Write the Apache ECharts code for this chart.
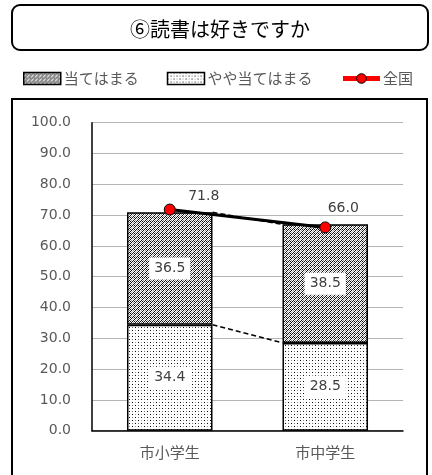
<!DOCTYPE html>
<html><head><meta charset="utf-8">
<script src="https://cdn.jsdelivr.net/npm/echarts@6/dist/echarts.min.js"></script>
<style>html,body{margin:0;padding:0;background:#fff}#c{width:432px;height:475px}</style>
</head><body><div id="c"></div>
<script>
const titleText = '⑥読書は好きですか';
const categories = ['市小学生', '市中学生'];
const seriesNames = ['当てはまる', 'やや当てはまる', '全国'];
const atehamaru = [36.5, 38.5];
const yayaAtehamaru = [34.4, 28.5];
const zenkoku = [71.8, 66.0];
const yTicks = {min: 0, max: 100, interval: 10};

function makePattern(size, pixels, bg) {
  const c = document.createElement('canvas');
  c.width = size[0]; c.height = size[1];
  const g = c.getContext('2d');
  g.fillStyle = bg; g.fillRect(0, 0, size[0], size[1]);
  pixels.forEach(p => { g.fillStyle = p[2]; g.fillRect(p[0], p[1], 1, 1); });
  return c;
}
const B = '#111', G = '#888', L = '#bbb';
const checkCanvas = makePattern([4, 4], [
  [1,0,B],[3,0,G],[0,1,B],[2,1,B],[1,2,G],[3,2,B],[0,3,L],[2,3,B]
], '#fff');
const dotCanvas = makePattern([6, 6], [
  [0,0,'#000'],[3,3,'#000'],[3,0,'#999'],[0,3,'#777']
], '#fff');
const checkFill = {image: checkCanvas, repeat: 'repeat'};
const dotFill = {image: dotCanvas, repeat: 'repeat'};

const barRatio = 0.55;
const lowerTops = yayaAtehamaru.slice();
const upperTops = yayaAtehamaru.map((v, i) => +(v + atehamaru[i]).toFixed(1));
const seriesLineData = [];
for (let i = 0; i < categories.length - 1; i++) {
  seriesLineData.push([i, lowerTops[i], i + 1, lowerTops[i + 1]]);
  seriesLineData.push([i, upperTops[i], i + 1, upperTops[i + 1]]);
}
const lineLabelOffsets = [[34, 2], [18, -4]];

const barLabel = {
  show: true, position: 'inside', color: '#404040', fontSize: 14,
  fontFamily: 'DejaVu Sans', backgroundColor: '#fff', padding: [4, 5],
  formatter: p => p.value.toFixed(1)
};

const chart = echarts.init(document.getElementById('c'), null, {renderer: 'canvas'});
chart.setOption({
  backgroundColor: '#fff',
  animation: false,
  graphic: [
    {type: 'rect', shape: {x: 12, y: 5, width: 416, height: 45, r: 8},
     style: {fill: '#fff', stroke: '#000', lineWidth: 2}, z: 1},
    {type: 'text', x: 220, y: 29, z: 2,
     style: {text: titleText, fontSize: 20, fontFamily: 'Noto Sans CJK JP', fill: '#000',
             textAlign: 'center', textVerticalAlign: 'middle'}},
    {type: 'rect', shape: {x: 12, y: 99, width: 415, height: 400},
     style: {fill: 'none', stroke: '#000', lineWidth: 2}, z: 1}
  ],
  legend: {
    left: 18, top: 66, itemWidth: 37, itemHeight: 12, itemGap: 28,
    textStyle: {color: '#595959', fontSize: 15, fontFamily: 'Noto Sans CJK JP', padding: [0, 0, 0, -2]},
    data: [
      {name: seriesNames[0], icon: 'rect', itemStyle: {color: checkFill, borderColor: '#000', borderWidth: 1.5}},
      {name: seriesNames[1], icon: 'rect', itemStyle: {color: dotFill, borderColor: '#000', borderWidth: 1.5}},
      {name: seriesNames[2], itemStyle: {color: '#f00', borderColor: '#000', borderWidth: 1},
       lineStyle: {color: '#f00', width: 5}}
    ]
  },
  grid: {left: 92, right: 29, top: 122.7, bottom: 44.3, containLabel: false},
  xAxis: {
    type: 'category', data: categories,
    axisLine: {lineStyle: {color: '#000', width: 1.5}},
    axisTick: {show: false},
    axisLabel: {color: '#595959', fontSize: 15, fontFamily: 'Noto Sans CJK JP', margin: 14}
  },
  yAxis: {
    type: 'value', min: yTicks.min, max: yTicks.max, interval: yTicks.interval,
    axisLine: {show: true, lineStyle: {color: '#000', width: 1.5}},
    axisTick: {show: false},
    splitLine: {lineStyle: {color: '#b4b4b4', width: 1.2}},
    axisLabel: {color: '#595959', fontSize: 14, fontFamily: 'DejaVu Sans', margin: 21,
                formatter: v => v.toFixed(1)}
  },
  series: [
    {name: seriesNames[1], type: 'bar', stack: 's', barWidth: (barRatio * 100) + '%',
     data: yayaAtehamaru, itemStyle: {color: dotFill, borderColor: '#000', borderWidth: 1.5},
     label: barLabel, z: 2},
    {name: seriesNames[0], type: 'bar', stack: 's', barWidth: (barRatio * 100) + '%',
     data: atehamaru, itemStyle: {color: checkFill, borderColor: '#000', borderWidth: 1.5},
     label: barLabel, z: 2},
    {type: 'custom', name: 'seriesLines', silent: true, z: 3,
     data: seriesLineData, encode: {x: [0, 2], y: [1, 3]},
     renderItem: (params, api) => {
       const a = api.coord([api.value(0), api.value(1)]);
       const b = api.coord([api.value(2), api.value(3)]);
       const half = api.size([1, 0])[0] * barRatio / 2;
       return {type: 'line', shape: {x1: a[0] + half, y1: a[1], x2: b[0] - half, y2: b[1]},
               style: {stroke: '#000', lineWidth: 1.5, lineDash: [5, 3]}};
     }},
    {name: seriesNames[2], type: 'line', z: 5,
     data: zenkoku.map((v, i) => ({value: v, label: {offset: lineLabelOffsets[i]}})),
     lineStyle: {color: '#000', width: 3},
     symbol: 'circle', symbolSize: 11,
     itemStyle: {color: '#f00', borderColor: '#000', borderWidth: 1},
     label: {show: true, position: 'top', distance: 2, color: '#404040', fontSize: 14,
             fontFamily: 'DejaVu Sans', formatter: p => p.value.toFixed(1)}}
  ]
});
</script></body></html>
